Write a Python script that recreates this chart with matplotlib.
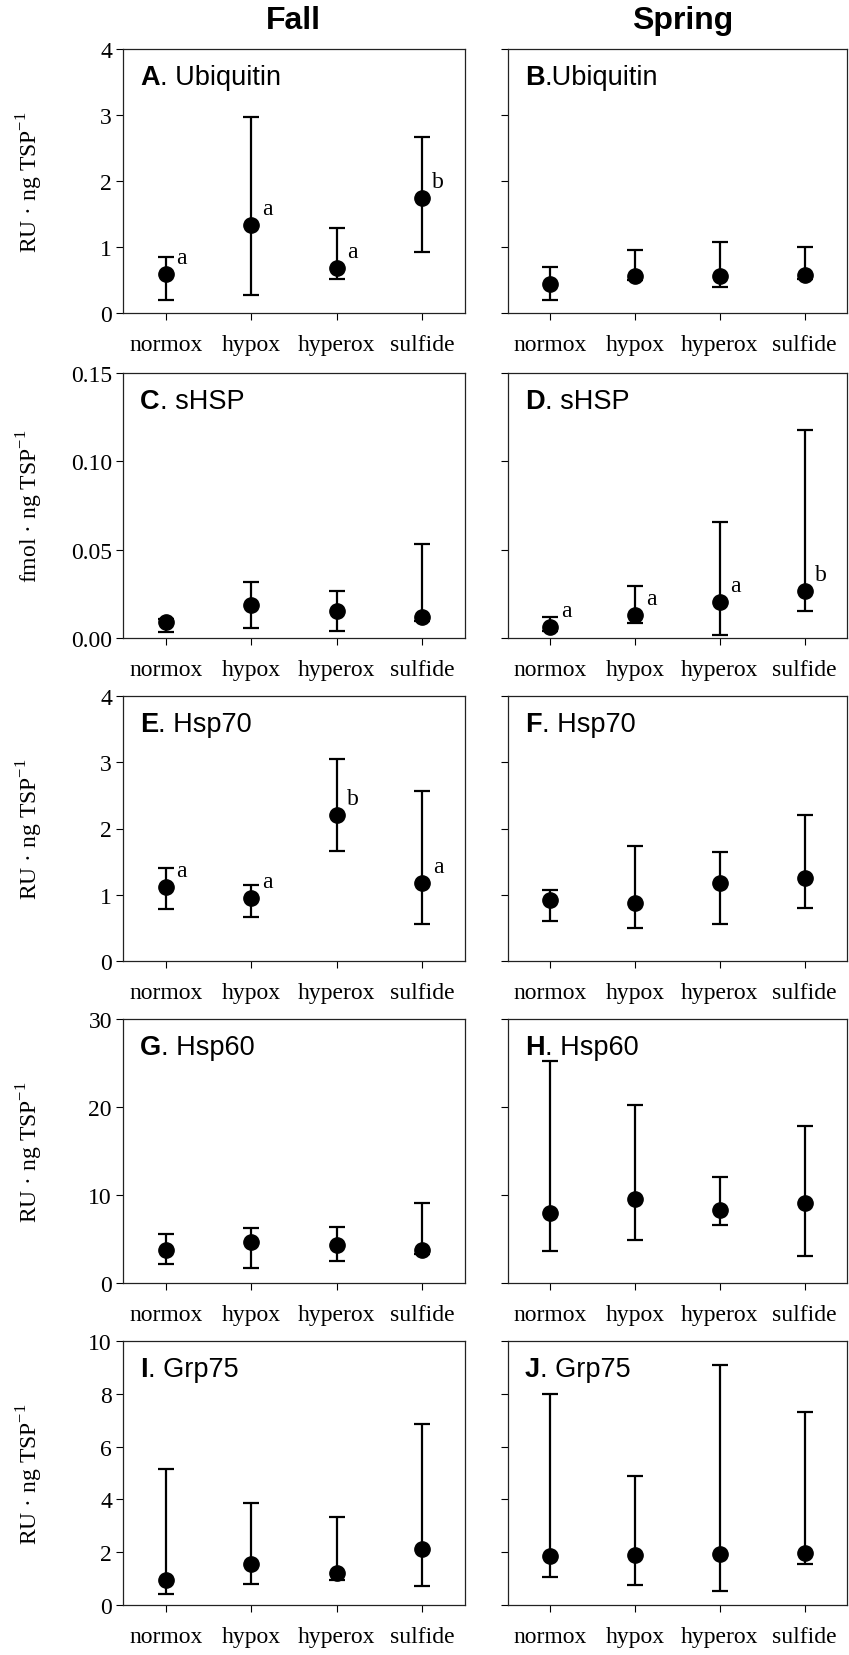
import matplotlib
matplotlib.use("Agg")
import matplotlib.pyplot as plt
import numpy as np

# treatments on the x axis
treatments = ["normox", "hypox", "hyperox", "sulfide"]

# means and error bar ends (fall / spring)
ubq_fall = [0.59, 1.33, 0.68, 1.74]
ubq_fall_lo = [0.20, 0.27, 0.51, 0.92]
ubq_fall_hi = [0.85, 2.97, 1.29, 2.66]
ubq_spring = [0.44, 0.56, 0.56, 0.57]
ubq_spring_lo = [0.19, 0.50, 0.40, 0.52]
ubq_spring_hi = [0.69, 0.95, 1.07, 1.00]

shsp_fall = [0.0089, 0.0189, 0.0155, 0.0121]
shsp_fall_lo = [0.0032, 0.0055, 0.0038, 0.0095]
shsp_fall_hi = [0.0110, 0.0316, 0.0265, 0.0533]
shsp_spring = [0.0062, 0.0128, 0.0204, 0.0264]
shsp_spring_lo = [0.0040, 0.0085, 0.0017, 0.0155]
shsp_spring_hi = [0.0121, 0.0296, 0.0655, 0.1180]

hsp70_fall = [1.11, 0.95, 2.20, 1.18]
hsp70_fall_lo = [0.78, 0.66, 1.66, 0.56]
hsp70_fall_hi = [1.41, 1.15, 3.05, 2.56]
hsp70_spring = [0.92, 0.87, 1.17, 1.26]
hsp70_spring_lo = [0.60, 0.50, 0.56, 0.80]
hsp70_spring_hi = [1.07, 1.74, 1.64, 2.20]

hsp60_fall = [3.71, 4.65, 4.28, 3.71]
hsp60_fall_lo = [2.19, 1.70, 2.46, 3.30]
hsp60_fall_hi = [5.52, 6.24, 6.32, 9.08]
hsp60_spring = [7.94, 9.60, 8.28, 9.11]
hsp60_spring_lo = [3.67, 4.84, 6.54, 3.02]
hsp60_spring_hi = [25.26, 20.20, 12.00, 17.80]

grp75_fall = [0.96, 1.56, 1.21, 2.12]
grp75_fall_lo = [0.42, 0.81, 0.95, 0.71]
grp75_fall_hi = [5.17, 3.86, 3.32, 6.86]
grp75_spring = [1.86, 1.91, 1.95, 1.98]
grp75_spring_lo = [1.07, 0.75, 0.54, 1.54]
grp75_spring_hi = [8.00, 4.87, 9.08, 7.32]

# significance letters (empty list = none shown)
letters_a = ["a", "a", "a", "b"]
letters_d = ["a", "a", "a", "b"]
letters_e = ["a", "a", "b", "a"]

ylabel_ru = "RU \u00b7 ng TSP$^{\\mathregular{-1}}$"
ylabel_fmol = "fmol \u00b7 ng TSP$^{\\mathregular{-1}}$"

panels = [
    # (row, col, letter, name, mean, lo, hi, letters, ylim, yticks, ticklabels, ylabel)
    (0, 0, "A", ". Ubiquitin", ubq_fall, ubq_fall_lo, ubq_fall_hi, letters_a,
     (0, 4), [0, 1, 2, 3, 4], ["0", "1", "2", "3", "4"], ylabel_ru),
    (0, 1, "B", ".Ubiquitin", ubq_spring, ubq_spring_lo, ubq_spring_hi, [],
     (0, 4), [0, 1, 2, 3, 4], None, None),
    (1, 0, "C", ". sHSP", shsp_fall, shsp_fall_lo, shsp_fall_hi, [],
     (0, 0.15), [0, 0.05, 0.10, 0.15], ["0.00", "0.05", "0.10", "0.15"], ylabel_fmol),
    (1, 1, "D", ". sHSP", shsp_spring, shsp_spring_lo, shsp_spring_hi, letters_d,
     (0, 0.15), [0, 0.05, 0.10, 0.15], None, None),
    (2, 0, "E", ". Hsp70", hsp70_fall, hsp70_fall_lo, hsp70_fall_hi, letters_e,
     (0, 4), [0, 1, 2, 3, 4], ["0", "1", "2", "3", "4"], ylabel_ru),
    (2, 1, "F", ". Hsp70", hsp70_spring, hsp70_spring_lo, hsp70_spring_hi, [],
     (0, 4), [0, 1, 2, 3, 4], None, None),
    (3, 0, "G", ". Hsp60", hsp60_fall, hsp60_fall_lo, hsp60_fall_hi, [],
     (0, 30), [0, 10, 20, 30], ["0", "10", "20", "30"], ylabel_ru),
    (3, 1, "H", ". Hsp60", hsp60_spring, hsp60_spring_lo, hsp60_spring_hi, [],
     (0, 30), [0, 10, 20, 30], None, None),
    (4, 0, "I", ". Grp75", grp75_fall, grp75_fall_lo, grp75_fall_hi, [],
     (0, 10), [0, 2, 4, 6, 8, 10], ["0", "2", "4", "6", "8", "10"], ylabel_ru),
    (4, 1, "J", ". Grp75", grp75_spring, grp75_spring_lo, grp75_spring_hi, [],
     (0, 10), [0, 2, 4, 6, 8, 10], None, None),
]

W, H = 849, 1656
fig = plt.figure(figsize=(W / 100, H / 100), dpi=100)

serif = "Liberation Serif"
sans = "Liberation Sans"

col_left = [123, 508]
col_right = [465, 847]
row_top = [50, 374, 697, 1020, 1342]
row_bot = [314, 639, 962, 1284, 1606]

x = np.arange(1, 5)

for row, col, letter, name, mean, lo, hi, sig, ylim, yt, ytl, ylab in panels:
    x0 = col_left[col] / W
    w = (col_right[col] - col_left[col]) / W
    y0 = 1 - row_bot[row] / H
    h = (row_bot[row] - row_top[row]) / H
    ax = fig.add_axes([x0, y0, w, h])

    mean = np.array(mean)
    yerr = [mean - np.array(lo), np.array(hi) - mean]
    ax.errorbar(x, mean, yerr=yerr, fmt="o", color="black", ms=11,
                elinewidth=1.6, capsize=5.5, capthick=1.6, zorder=3)

    for xi, yi, s in zip(x, mean, sig):
        ax.annotate(s, (xi, yi), xytext=(11.5, 12), textcoords="offset points",
                    ha="center", va="center", fontsize=17, family=serif)

    ax.set_xlim(0.5, 4.5)
    ax.set_ylim(*ylim)
    ax.set_xticks(x)
    ax.set_xticklabels(treatments, fontsize=17, family=serif)
    ax.set_yticks(yt)
    if ytl is None:
        ax.set_yticklabels([])
    else:
        ax.set_yticklabels(ytl, fontsize=17, family=serif)
    ax.tick_params(direction="out", length=5, width=0.8, pad=10)
    ax.tick_params(axis="y", pad=3)
    for sp in ax.spines.values():
        sp.set_linewidth(0.9)
        sp.set_color("#222222")

    if ylab:
        ax.set_ylabel(ylab, fontsize=17, family=serif)
        ax.yaxis.set_label_coords(-0.228, 0.5)

    # bold panel letter followed by the protein name
    t = ax.text(0.05, 0.895, letter, transform=ax.transAxes, fontsize=19.5,
                fontweight="bold", family=sans, va="center", ha="left")
    fig.canvas.draw()
    bb = t.get_window_extent().transformed(ax.transAxes.inverted())
    ax.text(bb.x1, 0.895, name, transform=ax.transAxes, fontsize=19.5,
            family=sans, va="center", ha="left")

fig.text(293 / W, 1 - 21 / H, "Fall", fontsize=23, fontweight="bold",
         family=sans, ha="center", va="center")
fig.text(683 / W, 1 - 21 / H, "Spring", fontsize=23, fontweight="bold",
         family=sans, ha="center", va="center")

fig.savefig("out.png", dpi=100)
